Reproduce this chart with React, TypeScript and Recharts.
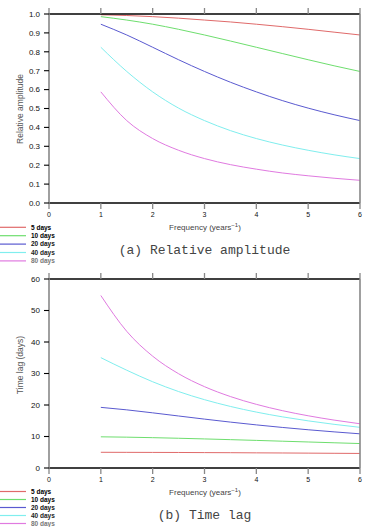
import React from 'react';
import { LineChart, Line, XAxis, YAxis } from 'recharts';

// Frequency (years^-1) sampled along each response curve
const freq = [1, 1.5, 2, 2.5, 3, 3.5, 4, 4.5, 5, 5.5, 6];

// Relative amplitude for each time constant
const amp5 = [0.996, 0.992, 0.986, 0.978, 0.968, 0.958, 0.946, 0.933, 0.919, 0.904, 0.889];
const amp10 = [0.986, 0.968, 0.946, 0.919, 0.889, 0.857, 0.824, 0.791, 0.758, 0.726, 0.696];
const amp20 = [0.946, 0.889, 0.824, 0.758, 0.696, 0.639, 0.588, 0.542, 0.502, 0.467, 0.436];
const amp40 = [0.824, 0.696, 0.588, 0.502, 0.436, 0.383, 0.341, 0.307, 0.279, 0.255, 0.235];
const amp80 = [0.588, 0.436, 0.341, 0.279, 0.235, 0.203, 0.179, 0.159, 0.144, 0.131, 0.12];

// Time lag (days) for each time constant
const lag5 = [4.99, 4.97, 4.95, 4.93, 4.89, 4.86, 4.81, 4.77, 4.72, 4.67, 4.62];
const lag10 = [9.9, 9.79, 9.63, 9.44, 9.23, 9.0, 8.76, 8.51, 8.26, 8.01, 7.76];
const lag20 = [19.25, 18.46, 17.51, 16.51, 15.52, 14.57, 13.69, 12.88, 12.14, 11.47, 10.85];
const lag40 = [35.03, 31.04, 27.38, 24.27, 21.69, 19.54, 17.75, 16.25, 14.97, 13.86, 12.91];
const lag80 = [54.76, 43.38, 35.5, 29.93, 25.82, 22.68, 20.21, 18.21, 16.58, 15.21, 14.04];

const seriesNames = ['5 days', '10 days', '20 days', '40 days', '80 days'];
const seriesColors = ['#e06a6a', '#6ede6e', '#5a5ad0', '#80eeee', '#e07ae0'];
const legendTextColors = ['#000', '#000', '#111', '#222', '#777'];

const freqTicks = [0, 1, 2, 3, 4, 5, 6];
const ampTicks = [0, 0.1, 0.2, 0.3, 0.4, 0.5, 0.6, 0.7, 0.8, 0.9, 1.0];
const lagTicks = [0, 10, 20, 30, 40, 50, 60];

const keys = ['s0', 's1', 's2', 's3', 's4'];

function buildRows(series: number[][]) {
  return freq.map((f, i) => {
    const row: Record<string, number> = { f };
    series.forEach((s, k) => {
      row[keys[k]] = s[i];
    });
    return row;
  });
}

const ampRows = buildRows([amp5, amp10, amp20, amp40, amp80]);
const lagRows = buildRows([lag5, lag10, lag20, lag40, lag80]);

const EmptyTick = () => <g />;

const sans = 'Liberation Sans, Arial, sans-serif';

type PanelProps = {
  top: number;
  rows: Record<string, number>[];
  yTicks: number[];
  yDomain: [number, number];
  fmt: (v: number) => string;
};

function Panel({ top, rows, yTicks, yDomain, fmt }: PanelProps) {
  return (
    <div style={{ position: 'absolute', left: 0, top, width: 371, height: 232 }}>
      <LineChart width={371} height={232} data={rows} margin={{ top: 0, right: 0, bottom: 0, left: 0 }}>
        <XAxis
          xAxisId="b"
          dataKey="f"
          type="number"
          domain={[0, 6]}
          ticks={freqTicks}
          interval={0}
          orientation="bottom"
          height={29}
          tickSize={6}
          tickMargin={3}
          axisLine={{ stroke: '#000', strokeWidth: 1.3 }}
          tickLine={{ stroke: '#888', strokeWidth: 1.3 }}
          tick={{ fontSize: 7, fill: '#111', fontFamily: sans }}
        />
        <XAxis
          xAxisId="t"
          dataKey="f"
          type="number"
          domain={[0, 6]}
          ticks={freqTicks}
          interval={0}
          orientation="top"
          height={14}
          tickSize={6}
          axisLine={{ stroke: '#000', strokeWidth: 1.3 }}
          tickLine={{ stroke: '#888', strokeWidth: 1.3 }}
          tick={EmptyTick}
        />
        <YAxis
          yAxisId="l"
          type="number"
          domain={yDomain}
          ticks={yTicks}
          interval={0}
          width={49}
          tickSize={5}
          tickMargin={4}
          tickFormatter={fmt}
          axisLine={{ stroke: '#888', strokeWidth: 1.6 }}
          tickLine={{ stroke: '#000', strokeWidth: 1.1 }}
          tick={{ fontSize: 8, fill: '#111', fontFamily: sans }}
        />
        <YAxis
          yAxisId="r"
          orientation="right"
          type="number"
          domain={yDomain}
          ticks={yTicks}
          interval={0}
          width={11}
          tickSize={6}
          axisLine={{ stroke: '#888', strokeWidth: 1.6 }}
          tickLine={{ stroke: '#000', strokeWidth: 1.1 }}
          tick={EmptyTick}
        />
        {keys.map((k, i) => (
          <Line
            key={k}
            xAxisId="b"
            yAxisId="l"
            dataKey={k}
            type="monotone"
            stroke={seriesColors[i]}
            strokeWidth={1}
            dot={false}
            isAnimationActive={false}
          />
        ))}
      </LineChart>
    </div>
  );
}

function Legend({ top, step }: { top: number; step: number }) {
  return (
    <>
      {seriesNames.map((name, i) => (
        <g key={name}>
          <line x1={0} x2={26} y1={top + i * step} y2={top + i * step} stroke={seriesColors[i]} strokeWidth={1.2} />
          <text
            x={31}
            y={top + i * step}
            dy="0.35em"
            fontSize={6.5}
            fontWeight="bold"
            fontFamily={sans}
            fill={legendTextColors[i]}
          >
            {name}
          </text>
        </g>
      ))}
    </>
  );
}

function FreqLabel({ y }: { y: number }) {
  return (
    <text x={205} y={y} dy="0.35em" textAnchor="middle" fontSize={8} fontFamily={sans} fill="#444">
      Frequency (years
      <tspan fontSize={6} dy={-3}>
        −1
      </tspan>
      <tspan dy={3}>)</tspan>
    </text>
  );
}

export default function App() {
  return (
    <div
      style={{
        position: 'absolute',
        left: 0,
        top: 0,
        width: 371,
        height: 527,
        background: '#fff',
        overflow: 'hidden',
      }}
    >
      <Panel top={0} rows={ampRows} yTicks={ampTicks} yDomain={[0, 1]} fmt={(v) => v.toFixed(1)} />
      <Panel top={265} rows={lagRows} yTicks={lagTicks} yDomain={[0, 60]} fmt={(v) => String(v)} />
      <svg
        width={371}
        height={527}
        style={{ position: 'absolute', left: 0, top: 0, pointerEvents: 'none' }}
      >
        <text
          transform="translate(20,109) rotate(-90)"
          textAnchor="middle"
          dy="0.35em"
          fontSize={8.5}
          fontFamily={sans}
          fill="#555"
        >
          Relative amplitude
        </text>
        <text
          transform="translate(20,365) rotate(-90)"
          textAnchor="middle"
          dy="0.35em"
          fontSize={8.5}
          fontFamily={sans}
          fill="#555"
        >
          Time lag (days)
        </text>
        <FreqLabel y={227} />
        <FreqLabel y={492.5} />
        <text
          x={204.5}
          y={249}
          dy="0.35em"
          textAnchor="middle"
          fontSize={13}
          fontFamily="Liberation Mono, monospace"
          fill="#444"
        >
          (a) Relative amplitude
        </text>
        <text
          x={204.5}
          y={514.5}
          dy="0.35em"
          textAnchor="middle"
          fontSize={13}
          fontFamily="Liberation Mono, monospace"
          fill="#444"
        >
          (b) Time lag
        </text>
        <Legend top={227.3} step={8.4} />
        <Legend top={491.5} step={8.0} />
      </svg>
    </div>
  );
}
